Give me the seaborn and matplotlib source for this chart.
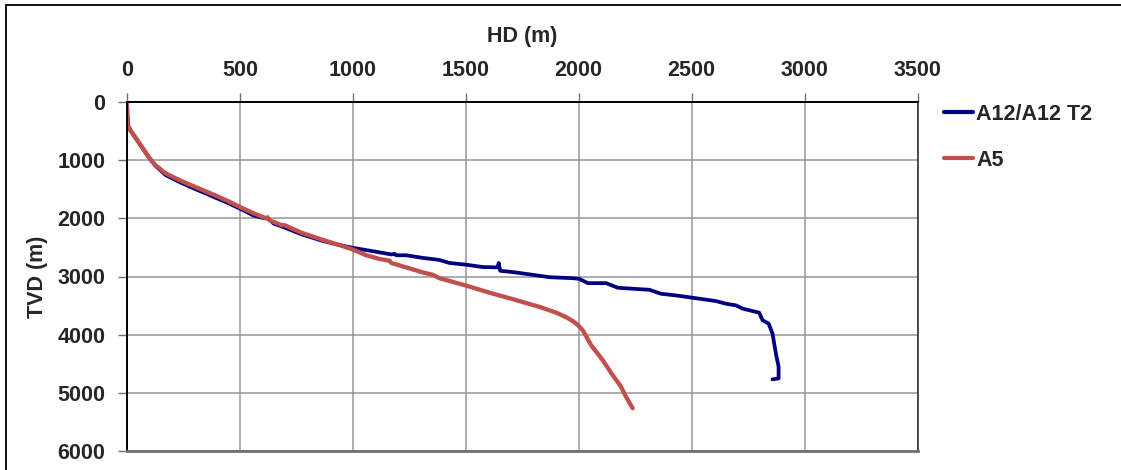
import matplotlib
matplotlib.use("Agg")
import matplotlib.pyplot as plt
from matplotlib.lines import Line2D
import seaborn as sns
import pandas as pd

# ---- data ----
a12_hd = [0, 2, 5, 15, 35, 65, 95, 125, 170, 215, 270, 330, 390, 450, 510, 560,
          600, 625, 650, 700, 770, 860, 941, 1000, 1088, 1170, 1185, 1192, 1236,
          1310, 1383, 1428, 1502, 1575, 1640, 1646, 1652, 1708, 1797, 1870, 1974,
          2003, 2040, 2121, 2173, 2313, 2364, 2431, 2504, 2608, 2652, 2696, 2726,
          2799, 2814, 2841, 2858, 2873, 2885, 2885, 2858]
a12_tvd = [0, 200, 400, 480, 600, 770, 940, 1090, 1250, 1340, 1440, 1540, 1640,
           1740, 1850, 1950, 1990, 2000, 2090, 2160, 2270, 2380, 2459, 2506, 2564,
           2620, 2610, 2635, 2634, 2680, 2715, 2767, 2797, 2837, 2843, 2767, 2901,
           2924, 2971, 3012, 3029, 3041, 3114, 3114, 3194, 3229, 3297, 3326, 3366,
           3423, 3469, 3497, 3554, 3623, 3754, 3811, 3983, 4326, 4554, 4754, 4771]

a5_hd = [0, 0, 3, 13, 35, 65, 94, 124, 168, 212, 271, 330, 389, 448, 507, 566,
         617, 622, 630, 683, 700, 772, 860, 941, 1000, 1059, 1118, 1162, 1170,
         1236, 1310, 1354, 1383, 1502, 1605, 1708, 1826, 1900, 1944, 1975, 2000,
         2018, 2055, 2106, 2150, 2187, 2209, 2239]
a5_tvd = [0, 217, 389, 474, 589, 760, 931, 1074, 1217, 1303, 1406, 1503, 1600,
          1703, 1817, 1920, 2000, 1980, 2030, 2114, 2120, 2246, 2360, 2459, 2535,
          2634, 2698, 2727, 2767, 2843, 2930, 2971, 3029, 3157, 3279, 3390, 3523,
          3622, 3700, 3770, 3850, 3926, 4183, 4440, 4697, 4897, 5069, 5269]

series_names = ["A12/A12 T2", "A5"]
series_colors = ["#000080", "#C0504D"]
x_ticks = [0, 500, 1000, 1500, 2000, 2500, 3000, 3500]
y_ticks = [0, 1000, 2000, 3000, 4000, 5000, 6000]

sns.set_style("white")
plt.rcParams["font.family"] = ["Liberation Sans", "DejaVu Sans"]
plt.rcParams["font.weight"] = "bold"

FS = 15.5
W, H = 1121, 470
fig = plt.figure(figsize=(W / 100, H / 100), dpi=100)
ax = fig.add_axes([127 / W, 1 - 450.7 / H, (917.5 - 127) / W, (450.7 - 102.3) / H])

df1 = pd.DataFrame({"HD": a12_hd, "TVD": a12_tvd})
df2 = pd.DataFrame({"HD": a5_hd, "TVD": a5_tvd})
sns.lineplot(data=df1, x="HD", y="TVD", sort=False, estimator=None,
             color=series_colors[0], lw=2.7, ax=ax, label=series_names[0],
             solid_capstyle="round", solid_joinstyle="round")
sns.lineplot(data=df2, x="HD", y="TVD", sort=False, estimator=None,
             color=series_colors[1], lw=3.1, ax=ax, label=series_names[1],
             solid_capstyle="round", solid_joinstyle="round")

ax.set_xlim(0, 3500)
ax.set_ylim(6000, 0)
ax.set_xticks(x_ticks)
ax.set_yticks(y_ticks)
ax.xaxis.tick_top()
ax.xaxis.set_label_position("top")
ax.grid(True, color="#969696", lw=1.1)
ax.set_axisbelow(True)

ax.tick_params(axis="both", which="major", labelsize=FS, length=6.5, width=1.0,
               color="#707070", pad=9, direction="out")
ax.tick_params(axis="x", top=True, bottom=False)
ax.tick_params(axis="y", left=True, right=False)
for lab in ax.get_xticklabels() + ax.get_yticklabels():
    lab.set_fontweight("bold")

ax.set_xlabel("HD (m)", fontsize=FS, fontweight="bold")
ax.set_ylabel("TVD (m)", fontsize=FS, fontweight="bold")
ax.xaxis.label.set_va("center")
ax.xaxis.set_label_coords(0.5, ((1 - 36.7 / H) - (1 - 450.7 / H)) / ((450.7 - 102.3) / H))
ax.yaxis.label.set_va("center")
ax.yaxis.set_label_coords((38 - 127) / (917.5 - 127), 0.5)

for side in ["top", "left"]:
    ax.spines[side].set_color("black")
    ax.spines[side].set_linewidth(1.4)
ax.spines["right"].set_color("#333333")
ax.spines["right"].set_linewidth(1.2)
ax.spines["bottom"].set_color("#707070")
ax.spines["bottom"].set_linewidth(2.0)

leg = ax.legend(loc="upper left", bbox_to_anchor=(944 / W, 1 - 104 / H),
                bbox_transform=fig.transFigure, frameon=False, fontsize=FS,
                handlelength=1.35, handletextpad=0.15, labelspacing=1.15,
                borderpad=0, borderaxespad=0, prop={"weight": "bold", "size": FS})
for h in leg.get_lines():
    h.set_linewidth(3.0)

# outer chart frame (cropped at bottom and right)
fig.add_artist(Line2D([6 / W, 6 / W], [0, 1 - 5.3 / H], transform=fig.transFigure,
                      color="black", lw=1.3))
fig.add_artist(Line2D([6 / W, 1], [1 - 5.3 / H, 1 - 5.3 / H], transform=fig.transFigure,
                      color="black", lw=1.3))

fig.savefig("out.png", dpi=100)
